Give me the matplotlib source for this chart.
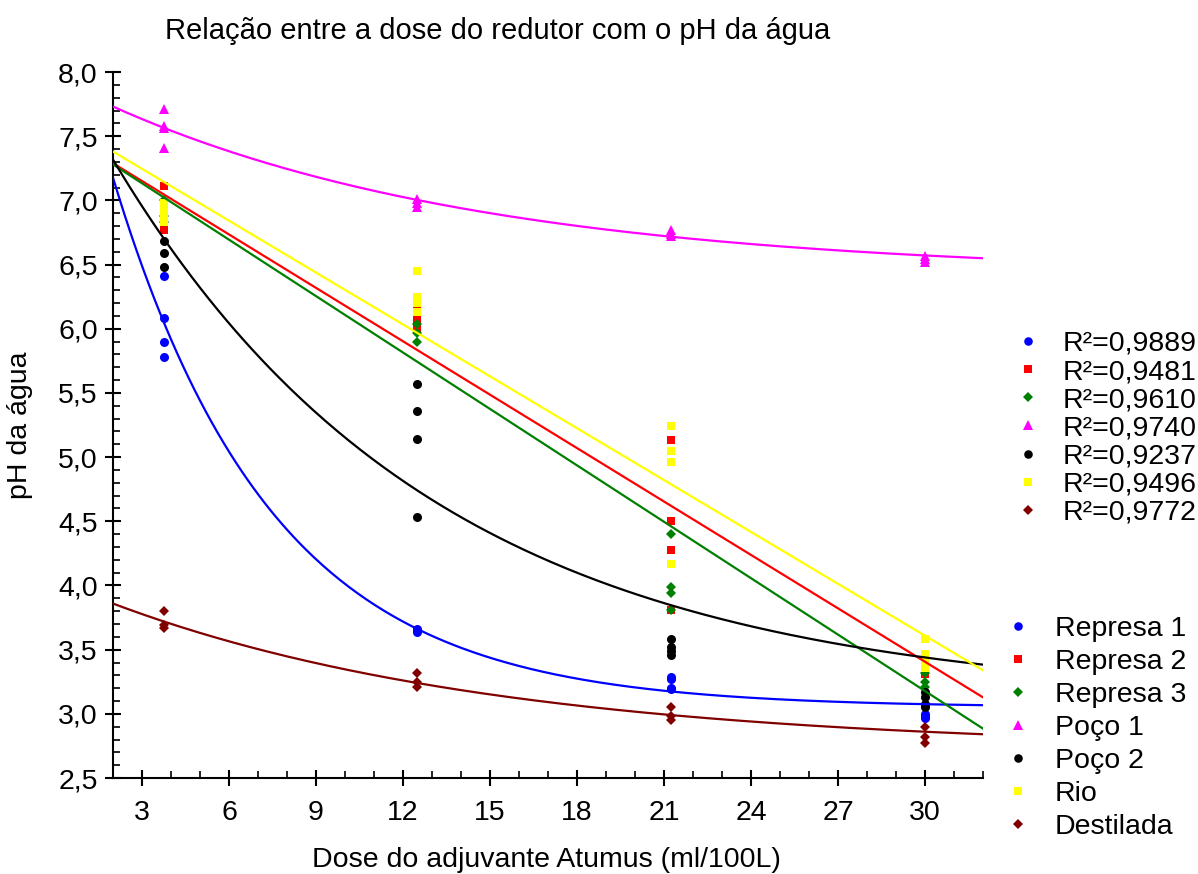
import numpy as np
import matplotlib
matplotlib.use('Agg')
import matplotlib.pyplot as plt
from matplotlib.lines import Line2D
from matplotlib.ticker import MultipleLocator, FuncFormatter

plt.rcParams['font.family'] = ['Liberation Sans', 'DejaVu Sans']

# doses (ml/100L)
doses = [3.75, 12.5, 21.25, 30]

names = ['Represa 1', 'Represa 2', 'Represa 3', 'Poço 1', 'Poço 2', 'Rio', 'Destilada']
r2 = ['0,9889', '0,9481', '0,9610', '0,9740', '0,9237', '0,9496', '0,9772']
colors = ['#0000FF', '#FF0000', '#008000', '#FF00FF', '#000000', '#FFFF00', '#800000']
markers = ['o', 's', 'D', '^', 'o', 's', 'D']
msizes = [6.5, 6.3, 5.0, 7.0, 6.5, 6.3, 5.0]

# pH readings per dose
represa1 = [[6.41, 6.08, 5.90, 5.78], [3.66, 3.64, 3.65], [3.29, 3.27, 3.20, 3.19], [3.00, 2.98, 2.97]]
represa2 = [[7.11, 6.98, 6.82, 6.77], [6.19, 6.09, 6.03, 6.00], [5.13, 4.50, 4.28, 3.81], [3.40, 3.36, 3.31]]
represa3 = [[7.00, 6.88, 6.83], [6.04, 5.97, 5.90], [4.40, 3.99, 3.94, 3.81], [3.32, 3.25, 3.21]]
poco1 = [[7.71, 7.58, 7.56, 7.41], [7.01, 6.98, 6.95], [6.77, 6.74, 6.72], [6.57, 6.54, 6.52]]
poco2 = [[6.68, 6.59, 6.48], [5.57, 5.36, 5.14, 4.53], [3.58, 3.52, 3.49, 3.46], [3.17, 3.13, 3.08, 3.05]]
rio = [[6.98, 6.92, 6.88, 6.83], [6.45, 6.25, 6.20, 6.13], [5.24, 5.05, 4.96, 4.17], [3.58, 3.47, 3.42, 3.36]]
destilada = [[3.80, 3.69, 3.67], [3.32, 3.25, 3.21], [3.05, 2.98, 2.95], [2.90, 2.82, 2.77]]
data = [represa1, represa2, represa3, poco1, poco2, rio, destilada]

# fitted models: ('exp', a, b, c) -> a + b*exp(-c*x) ; ('lin', b0, b1) -> b0 + b1*x
fits = [
    ('exp', 3.05, 5.94, 0.182),
    ('lin', 7.567, -0.1387),
    ('lin', 7.573, -0.1465),
    ('exp', 6.42, 1.53, 0.0772),
    ('exp', 3.10, 5.05, 0.090),
    ('lin', 7.65, -0.1347),
    ('exp', 2.72, 1.323, 0.0747),
]

fig = plt.figure(figsize=(11.98, 8.74), dpi=100)
ax = fig.add_axes([0.0943, 0.1098, 0.7262, 0.8078])

for vals, col, mk, ms in zip(data, colors, markers, msizes):
    xs = [d for d, v in zip(doses, vals) for _ in v]
    ys = [y for v in vals for y in v]
    ax.plot(xs, ys, linestyle='none', marker=mk, color=col, markersize=ms,
            markeredgewidth=0, zorder=3)

xx = np.linspace(2, 32, 300)
for f, col in zip(fits, colors):
    if f[0] == 'exp':
        yy = f[1] + f[2] * np.exp(-f[3] * xx)
    else:
        yy = f[1] + f[2] * xx
    ax.plot(xx, yy, color=col, linewidth=1.6, zorder=4)

ax.set_xlim(2, 32)
ax.set_ylim(2.5, 8.0)
ax.set_xticks([3, 6, 9, 12, 15, 18, 21, 24, 27, 30])
ax.xaxis.set_minor_locator(MultipleLocator(1))
ax.yaxis.set_major_locator(MultipleLocator(0.5))
ax.yaxis.set_minor_locator(MultipleLocator(0.1))
ax.yaxis.set_major_formatter(FuncFormatter(lambda v, p: f'{v:.1f}'.replace('.', ',')))
ax.xaxis.set_major_formatter(FuncFormatter(lambda v, p: f'{v:.0f}'))

for s in ['top', 'right']:
    ax.spines[s].set_visible(False)
for s in ['left', 'bottom']:
    ax.spines[s].set_linewidth(1.5)
ax.tick_params(which='major', direction='inout', length=12, width=1.5, labelsize=20.5)
ax.tick_params(axis='x', which='major', pad=10)
ax.tick_params(axis='y', which='major', pad=5)
ax.tick_params(which='minor', direction='in', length=5, width=1.2)

fig.text(0.415, 1 - 31 / 874, 'Relação entre a dose do redutor com o pH da água',
         ha='center', va='center', fontsize=21)
fig.text(546 / 1198, 1 - 860 / 874, 'Dose do adjuvante Atumus (ml/100L)',
         ha='center', va='center', fontsize=20.5)
fig.text(20 / 1198, 1 - 425 / 874, 'pH da água', rotation=90,
         ha='center', va='center', fontsize=20.5)

r2_handles = [Line2D([], [], linestyle='none', marker=m, color=c, markersize=s * 0.95,
                     markeredgewidth=0) for m, c, s in zip(markers, colors, msizes)]
leg1 = fig.legend(r2_handles, ['R²=' + r for r in r2], loc='upper left',
                  bbox_to_anchor=(0.8486, 0.6213), frameon=False, fontsize=20.5,
                  handlelength=0.8, handletextpad=0.83, labelspacing=0.075,
                  borderpad=0, borderaxespad=0)
name_handles = [Line2D([], [], linestyle='none', marker=m, color=c, markersize=s * 0.95,
                       markeredgewidth=0) for m, c, s in zip(markers, colors, msizes)]
leg2 = fig.legend(name_handles, names, loc='upper left',
                  bbox_to_anchor=(0.8402, 0.2955), frameon=False, fontsize=20.5,
                  handlelength=0.8, handletextpad=0.9, labelspacing=0.25,
                  borderpad=0, borderaxespad=0)

fig.savefig('out.png', dpi=100)
